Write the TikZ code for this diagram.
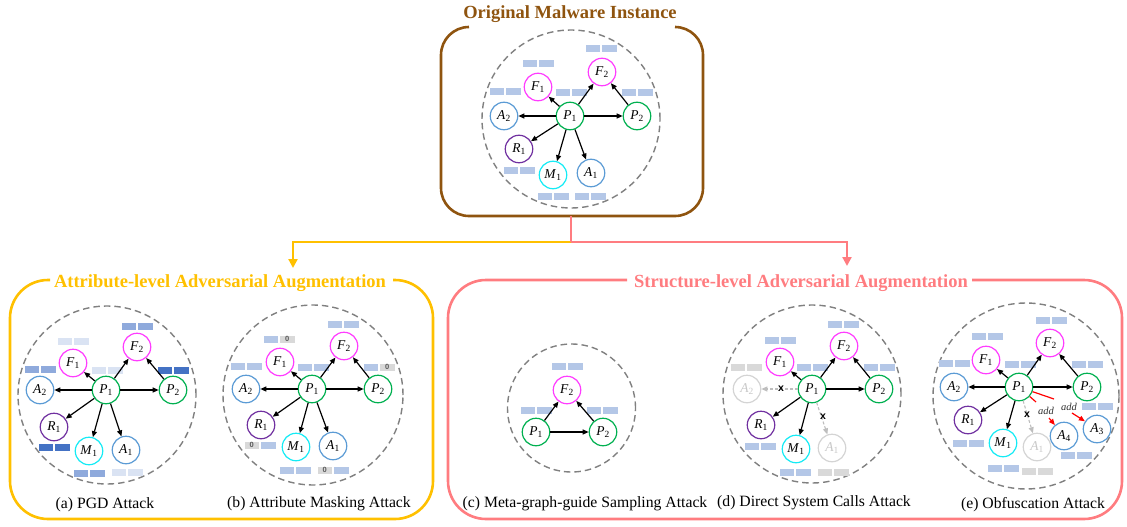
\documentclass[tikz,border=0pt]{standalone}
\usepackage{fontspec}
\setmainfont{Liberation Serif}
\newfontfamily\xsans{Liberation Sans}
\usetikzlibrary{arrows.meta}
\definecolor{cF}{RGB}{255,60,255}
\definecolor{cA}{RGB}{91,155,213}
\definecolor{cP}{RGB}{0,176,80}
\definecolor{cR}{RGB}{112,48,160}
\definecolor{cM}{RGB}{20,235,245}
\definecolor{cG}{RGB}{212,212,212}
\definecolor{cGt}{RGB}{200,200,200}
\definecolor{cGe}{RGB}{190,190,190}
\definecolor{bL}{RGB}{180,199,231}
\definecolor{bVL}{RGB}{218,227,243}
\definecolor{bM}{RGB}{143,170,220}
\definecolor{bD}{RGB}{68,114,196}
\definecolor{bG}{RGB}{217,217,217}
\definecolor{brownc}{RGB}{143,84,15}
\definecolor{yelc}{RGB}{255,192,0}
\definecolor{salc}{RGB}{255,124,128}
\definecolor{ringc}{RGB}{128,128,128}
\newcommand\nlab[2]{\textit{#1}\textsubscript{#2}}
\newcommand\barpr[4]{\fill[#3] (#1-15.5,#2-3.5) rectangle (#1-1,#2+3.5); \fill[#4] (#1+1,#2-3.5) rectangle (#1+15.5,#2+3.5);}
\tikzset{
  vx/.style={circle, draw, line width=1.2pt, minimum size=27.5pt, inner sep=0pt, fill=white, font=\fontsize{13.5}{13.5}\selectfont},
  fn/.style={vx, draw=cF}, an/.style={vx, draw=cA}, pn/.style={vx, draw=cP},
  rn/.style={vx, draw=cR}, mn/.style={vx, draw=cM}, gn/.style={vx, draw=cG, text=cGt},
  arr/.style={line width=1.2pt, -{Triangle[length=6pt,width=5pt]}},
  garr/.style={line width=1.1pt, draw=cGe, dash pattern=on 3pt off 2pt, -{Triangle[length=6pt,width=5pt]}},
  redl/.style={line width=1.2pt, draw=red},
  reda/.style={line width=1.2pt, draw=red, -{Triangle[length=6pt,width=5pt]}},
  ring/.style={draw=ringc, line width=1.4pt, dash pattern=on 6.5pt off 4pt},
  zerot/.style={font=\xsans\bfseries\fontsize{7.5}{7.5}\selectfont, text=black!65, inner sep=0pt},
  xmark/.style={font=\xsans\bfseries\fontsize{10.5}{10.5}\selectfont, inner sep=0pt},
  addl/.style={font=\itshape\fontsize{10.5}{10.5}\selectfont, inner sep=0pt, text=black!80},
  ttl/.style={font=\bfseries\fontsize{18.5}{18.5}\selectfont, inner sep=1pt},
  captxt/.style={font=\fontsize{15.7}{15.7}\selectfont, inner sep=0pt},
  boxl/.style={line width=2.6pt},
  conn/.style={line width=2.2pt},
}
\begin{document}
\begin{tikzpicture}[x=1pt,y=-1pt]
\useasboundingbox (0,0) rectangle (1127,527);

% ---------- boxes ----------
\draw[boxl, brownc, rounded corners=28pt] (469,27) -- (441,27) -- (441,216) -- (703,216) -- (703,27) -- (675,27);
\node[ttl, text=brownc] (t0) at (570,14) {Original Malware Instance};
\draw[boxl, yelc, rounded corners=38pt] (50,280) -- (10,280) -- (10,519) -- (433,519) -- (433,280) -- (393,280);
\node[ttl, text=yelc] (t1) at (220,283) {Attribute-level Adversarial Augmentation};
\draw[boxl, salc, rounded corners=38pt] (627,280) -- (448,280) -- (448,519) -- (1122,519) -- (1122,280) -- (972,280);
\node[ttl, text=salc] (t2) at (801,283) {Structure-level Adversarial Augmentation};

% ---------- connectors between boxes ----------
\coordinate (tb) at (571,216);
\coordinate (sp) at (571,242);
\coordinate (yc) at (293,242);
\coordinate (ye) at (293,268);
\coordinate (rc) at (847,242);
\coordinate (re) at (847,266);
\draw[conn, yelc, -{Triangle[length=9pt,width=9pt]}] (sp) -- (yc) -- (ye);
\draw[conn, salc, -{Triangle[length=9pt,width=9pt]}] (sp) -- (rc) -- (re);
\draw[conn, salc] (tb) -- (sp);

% ---------- top graph ----------
\begin{scope}[name prefix=t-]
\draw[ring] (571,119) circle [radius=89pt];
\barpr{538}{64}{bL}{bL}
\barpr{601}{49}{bL}{bL}
\barpr{505}{91}{bL}{bL}
\barpr{571}{92}{bL}{bL}
\barpr{637}{92}{bL}{bL}
\barpr{519}{170}{bL}{bL}
\barpr{553}{196}{bL}{bL}
\barpr{590}{196}{bL}{bL}
\node[pn] (P1) at (570,116) {\nlab P1};
\node[fn] (F1) at (538,87) {\nlab F1};
\node[fn] (F2) at (602,72) {\nlab F2};
\node[an] (A2) at (504,116) {\nlab A2};
\node[pn] (P2) at (637,116) {\nlab P2};
\node[rn] (R1) at (519,149) {\nlab R1};
\node[mn] (M1) at (553,175) {\nlab M1};
\node[an] (A1) at (591,173) {\nlab A1};
\draw[arr] (P1) -- (A2);
\draw[arr] (P1) -- (F1);
\draw[arr] (P1) -- (F2);
\draw[arr] (P1) -- (P2);
\draw[arr] (P2) -- (F2);
\draw[arr] (P1) -- (R1);
\draw[arr] (P1) -- (M1);
\draw[arr] (P1) -- (A1);
\end{scope}

% ---------- (a) PGD ----------
\begin{scope}[name prefix=a-]
\draw[ring] (107,395) circle [radius=89pt];
\barpr{73}{341}{bVL}{bVL}
\barpr{137}{326}{bM}{bM}
\barpr{40}{369}{bM}{bM}
\barpr{107}{370}{bVL}{bVL}
\barpr{173}{370}{bD}{bD}
\barpr{54}{447}{bD}{bD}
\barpr{89}{473}{bM}{bM}
\barpr{127}{472}{bVL}{bVL}
\node[pn] (P1) at (106,390) {\nlab P1};
\node[fn] (F1) at (73,363) {\nlab F1};
\node[fn] (F2) at (137,347) {\nlab F2};
\node[an] (A2) at (40,390) {\nlab A2};
\node[pn] (P2) at (173,390) {\nlab P2};
\node[rn] (R1) at (54,427) {\nlab R1};
\node[mn] (M1) at (89,451) {\nlab M1};
\node[an] (A1) at (126,450) {\nlab A1};
\draw[arr] (P1) -- (A2);
\draw[arr] (P1) -- (F1);
\draw[arr] (P1) -- (F2);
\draw[arr] (P1) -- (P2);
\draw[arr] (P2) -- (F2);
\draw[arr] (P1) -- (R1);
\draw[arr] (P1) -- (M1);
\draw[arr] (P1) -- (A1);
\node[captxt] (cap) at (105,505) {(a) PGD Attack};
\end{scope}

% ---------- (b) masking ----------
\begin{scope}[name prefix=b-]
\draw[ring] (313,395) circle [radius=90pt];
\barpr{279}{339}{bL}{bG}
\barpr{343}{324}{bL}{bL}
\barpr{246}{366}{bL}{bL}
\barpr{313}{367}{bL}{bL}
\barpr{379}{367}{bL}{bG}
\barpr{260}{445}{bG}{bL}
\barpr{295}{470}{bL}{bL}
\barpr{333}{470}{bG}{bL}
\node[zerot] (z1) at (287.25,339) {0};
\node[zerot] (z2) at (387.25,367) {0};
\node[zerot] (z3) at (251.75,445) {0};
\node[zerot] (z4) at (324.75,470) {0};
\node[pn] (P1) at (312,389) {\nlab P1};
\node[fn] (F1) at (280,362) {\nlab F1};
\node[fn] (F2) at (344,346) {\nlab F2};
\node[an] (A2) at (246,389) {\nlab A2};
\node[pn] (P2) at (378,389) {\nlab P2};
\node[rn] (R1) at (261,425) {\nlab R1};
\node[mn] (M1) at (296,447) {\nlab M1};
\node[an] (A1) at (333,446) {\nlab A1};
\draw[arr] (P1) -- (A2);
\draw[arr] (P1) -- (F1);
\draw[arr] (P1) -- (F2);
\draw[arr] (P1) -- (P2);
\draw[arr] (P2) -- (F2);
\draw[arr] (P1) -- (R1);
\draw[arr] (P1) -- (M1);
\draw[arr] (P1) -- (A1);
\node[captxt] (cap) at (319,504) {(b) Attribute Masking Attack};
\end{scope}

% ---------- (c) meta-graph sampling ----------
\begin{scope}[name prefix=c-]
\draw[ring] (571.5,408) circle [radius=64pt];
\barpr{567}{366}{bL}{bL}
\barpr{536}{410}{bL}{bL}
\barpr{602}{410}{bL}{bL}
\node[fn] (F2) at (567,390) {\nlab F2};
\node[pn] (P1) at (536,432) {\nlab P1};
\node[pn] (P2) at (603,432) {\nlab P2};
\draw[arr] (P1) -- (F2);
\draw[arr] (P2) -- (F2);
\draw[arr] (P1) -- (P2);
\node[captxt] (cap) at (585,504) {(c) Meta-graph-guide Sampling Attack};
\end{scope}

% ---------- (d) direct system calls ----------
\begin{scope}[name prefix=d-]
\draw[ring] (812,394) circle [radius=89pt];
\barpr{780}{340}{bL}{bL}
\barpr{843}{324}{bL}{bL}
\barpr{746}{367}{bG}{bG}
\barpr{812}{367}{bL}{bL}
\barpr{879}{367}{bL}{bL}
\barpr{760}{446}{bL}{bL}
\barpr{795}{472}{bL}{bL}
\barpr{833}{472}{bG}{bG}
\node[pn] (P1) at (812,389) {\nlab P1};
\node[fn] (F1) at (780,362) {\nlab F1};
\node[fn] (F2) at (844,346) {\nlab F2};
\node[gn] (A2) at (747,389) {\nlab A2};
\node[pn] (P2) at (879,389) {\nlab P2};
\node[rn] (R1) at (761,425) {\nlab R1};
\node[mn] (M1) at (796,449) {\nlab M1};
\node[gn] (A1) at (832,448) {\nlab A1};
\draw[garr] (P1) -- (A2);
\draw[garr] (P1) -- (A1);
\draw[arr] (P1) -- (F1);
\draw[arr] (P1) -- (F2);
\draw[arr] (P1) -- (P2);
\draw[arr] (P2) -- (F2);
\draw[arr] (P1) -- (R1);
\draw[arr] (P1) -- (M1);
\node[xmark] (x1) at (781,389) {x};
\node[xmark] (x2) at (823,417) {x};
\node[captxt] (cap) at (814,503) {(d) Direct System Calls Attack};
\end{scope}

% ---------- (e) obfuscation ----------
\begin{scope}[name prefix=e-]
\draw[ring] (1026,396) circle [radius=93pt];
\barpr{987}{336}{bL}{bL}
\barpr{1051}{320}{bL}{bL}
\barpr{954}{363}{bL}{bL}
\barpr{1020}{364}{bL}{bL}
\barpr{1087}{364}{bL}{bL}
\barpr{1097}{406}{bL}{bL}
\barpr{968}{443}{bL}{bL}
\barpr{1003}{468}{bL}{bL}
\barpr{1037}{471}{bG}{bG}
\barpr{1076}{455}{bL}{bL}
\node[pn] (P1) at (1019,387) {\nlab P1};
\node[fn] (F1) at (986,360) {\nlab F1};
\node[fn] (F2) at (1050,343) {\nlab F2};
\node[an] (A2) at (954,387) {\nlab A2};
\node[pn] (P2) at (1087,387) {\nlab P2};
\node[rn] (R1) at (968,420) {\nlab R1};
\node[mn] (M1) at (1003,443) {\nlab M1};
\node[gn] (A1) at (1037,447) {\nlab A1};
\node[an] (A4) at (1064,436) {\nlab A4};
\node[an] (A3) at (1097,429) {\nlab A3};
\draw[garr] (P1) -- (A1);
\draw[arr] (P1) -- (A2);
\draw[arr] (P1) -- (F1);
\draw[arr] (P1) -- (F2);
\draw[arr] (P1) -- (P2);
\draw[arr] (P2) -- (F2);
\draw[arr] (P1) -- (R1);
\draw[arr] (P1) -- (M1);
\node[xmark] (x1) at (1027,415) {x};
\coordinate (r1) at (1054,399);
\coordinate (r1b) at (1072,413);
\coordinate (r2) at (1036,402);
\coordinate (r2b) at (1049,418);
\draw[redl] (P1) -- (r1);
\draw[redl] (P1) -- (r2);
\draw[reda] (r1b) -- (A3);
\draw[reda] (r2b) -- (A4);
\node[addl] (ad1) at (1046,411) {add};
\node[addl] (ad2) at (1069,407) {add};
\node[captxt] (cap) at (1033,505) {(e) Obfuscation Attack};
\end{scope}
\end{tikzpicture}
\end{document}
